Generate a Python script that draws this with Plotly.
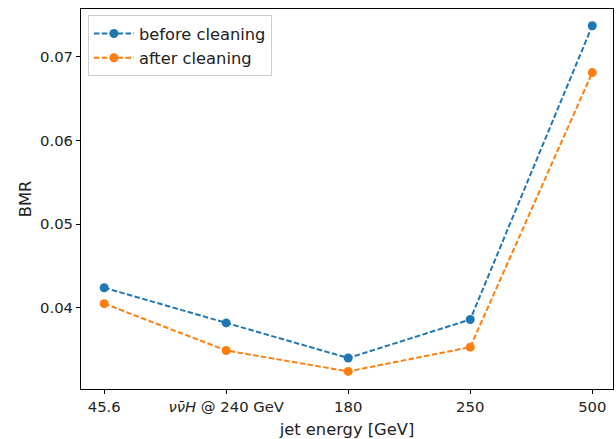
import plotly.graph_objects as go

# Jet energy points and BMR values
categories = ["45.6", "<i>νν̄H</i> @ 240 GeV", "180", "250", "500"]
bmr_before = [0.0424, 0.0382, 0.0340, 0.0386, 0.0737]
bmr_after = [0.0405, 0.0349, 0.0324, 0.0353, 0.0681]

positions = list(range(len(categories)))
text_color = "#222222"
tick_font = dict(family="DejaVu Sans", size=14.8, color=text_color)
label_font = dict(family="DejaVu Sans", size=16.3, color=text_color)
dash = "5.5px,2.4px"

fig = go.Figure()
fig.add_trace(go.Scatter(
    x=positions, y=bmr_before, name="before cleaning",
    mode="lines+markers",
    line=dict(color="#1f77b4", width=2, dash=dash),
    marker=dict(color="#1f77b4", size=9),
))
fig.add_trace(go.Scatter(
    x=positions, y=bmr_after, name="after cleaning",
    mode="lines+markers",
    line=dict(color="#ff7f0e", width=2, dash=dash),
    marker=dict(color="#ff7f0e", size=9),
))

fig.update_layout(
    width=616, height=439,
    margin=dict(l=81, r=3, t=9, b=50),
    plot_bgcolor="white", paper_bgcolor="white",
    font=tick_font,
    showlegend=True,
    legend=dict(
        x=0.013, y=0.983, xanchor="left", yanchor="top",
        bgcolor="rgba(255,255,255,0.8)", bordercolor="#cccccc", borderwidth=1,
        font=label_font,
        itemwidth=40,
        tracegroupgap=0,
    ),
)
fig.update_xaxes(
    range=[-0.19, 4.17],
    tickmode="array", tickvals=positions, ticktext=categories,
    tickfont=tick_font,
    showgrid=False, zeroline=False,
    showline=True, linecolor="black", linewidth=1, mirror=True,
    ticks="outside", ticklen=4, tickcolor="black",
    title=dict(text="jet energy [GeV]", font=label_font, standoff=9),
)
fig.update_yaxes(
    range=[0.0303, 0.0757],
    tickmode="array", tickvals=[0.04, 0.05, 0.06, 0.07],
    tickformat=".2f",
    tickfont=tick_font,
    showgrid=False, zeroline=False,
    showline=True, linecolor="black", linewidth=1, mirror=True,
    ticks="outside", ticklen=4, tickcolor="black",
    title=dict(text="BMR", font=label_font, standoff=4),
)

fig.write_html("out.html")
